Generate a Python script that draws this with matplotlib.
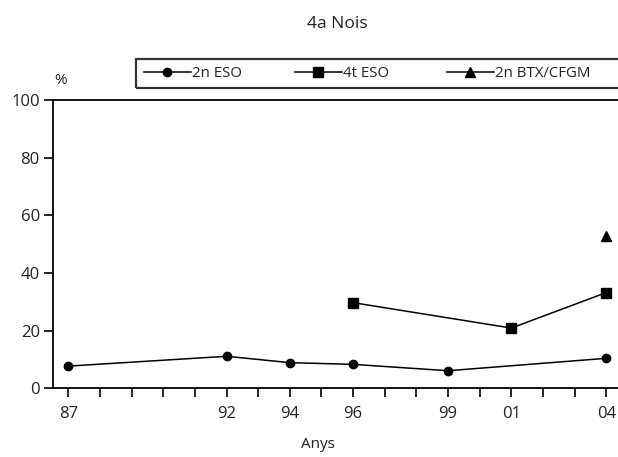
import matplotlib
matplotlib.use("Agg")
import matplotlib.pyplot as plt
from matplotlib.patches import Rectangle
from matplotlib.lines import Line2D

plt.rcParams['font.family'] = ['Open Sans', 'DejaVu Sans']

years_all = list(range(1987, 2005))
major_years = [1987, 1992, 1994, 1996, 1999, 2001, 2004]
major_labels = ['87', '92', '94', '96', '99', '01', '04']

eso2_years = [1987, 1992, 1994, 1996, 1999, 2004]
eso2_vals = [7.7, 11.1, 8.9, 8.3, 6.1, 10.4]

eso4_years = [1996, 2001, 2004]
eso4_vals = [29.7, 20.9, 33.2]

btx_years = [2004]
btx_vals = [52.8]

series_labels = ['2n ESO', '4t ESO', '2n BTX/CFGM']
yticks = [0, 20, 40, 60, 80, 100]

W, H = 618, 457
fig = plt.figure(figsize=(W / 100, H / 100), dpi=100)
ax = fig.add_axes([53 / W, 1 - 388.3 / H, 1 - 53 / W + 0.002, (388.3 - 100) / H])

txt = '#222222'
ax.plot(eso2_years, eso2_vals, color='black', lw=1.1, marker='o', ms=6, label=series_labels[0])
ax.plot(eso4_years, eso4_vals, color='black', lw=1.1, marker='s', ms=7, label=series_labels[1])
ax.plot(btx_years, btx_vals, color='black', lw=1.1, marker='^', ms=6.5, linestyle='-', label=series_labels[2])

ax.set_xlim(1986.515, 2004.41)
ax.set_ylim(0, 100)
ax.set_xticks(major_years)
ax.set_xticklabels(major_labels)
ax.set_xticks(years_all, minor=True)
ax.set_yticks(yticks)
ax.tick_params(axis='both', which='both', direction='out', length=6.5, width=1.2,
               colors='black', labelcolor=txt, labelsize=12)
ax.tick_params(axis='x', which='major', pad=6)
ax.tick_params(axis='y', which='major', pad=3)
for s in ['left', 'bottom', 'top']:
    ax.spines[s].set_linewidth(1.3)
ax.spines['right'].set_visible(False)

fig.text(337 / W, 1 - 24 / H, '4a Nois', ha='center', va='center', fontsize=12.5, color=txt)
fig.text(318 / W, 1 - 445 / H, 'Anys', ha='center', va='center', fontsize=11, color=txt)
fig.text(61 / W, 1 - 80 / H, '%', ha='center', va='center', fontsize=11, color=txt)

# legend box
fig.patches.append(Rectangle((136 / W, 1 - 88 / H), 0.9, 29 / H, transform=fig.transFigure,
                             fill=False, edgecolor='#333333', linewidth=1.6))
markers = ['o', 's', '^']
msizes = [6, 7, 6.5]
leg_x = [144, 295, 447]
for lab, m, s, x in zip(series_labels, markers, msizes, leg_x):
    h = Line2D([], [], color='black', lw=1.1, marker=m, ms=s)
    fig.legend([h], [lab], frameon=False, loc='center left',
               bbox_to_anchor=(x / W, 1 - 73.5 / H), fontsize=10.8, handlelength=3.1,
               handletextpad=0.1, borderpad=0, borderaxespad=0, labelcolor=txt)

fig.savefig('out.png', dpi=100)
